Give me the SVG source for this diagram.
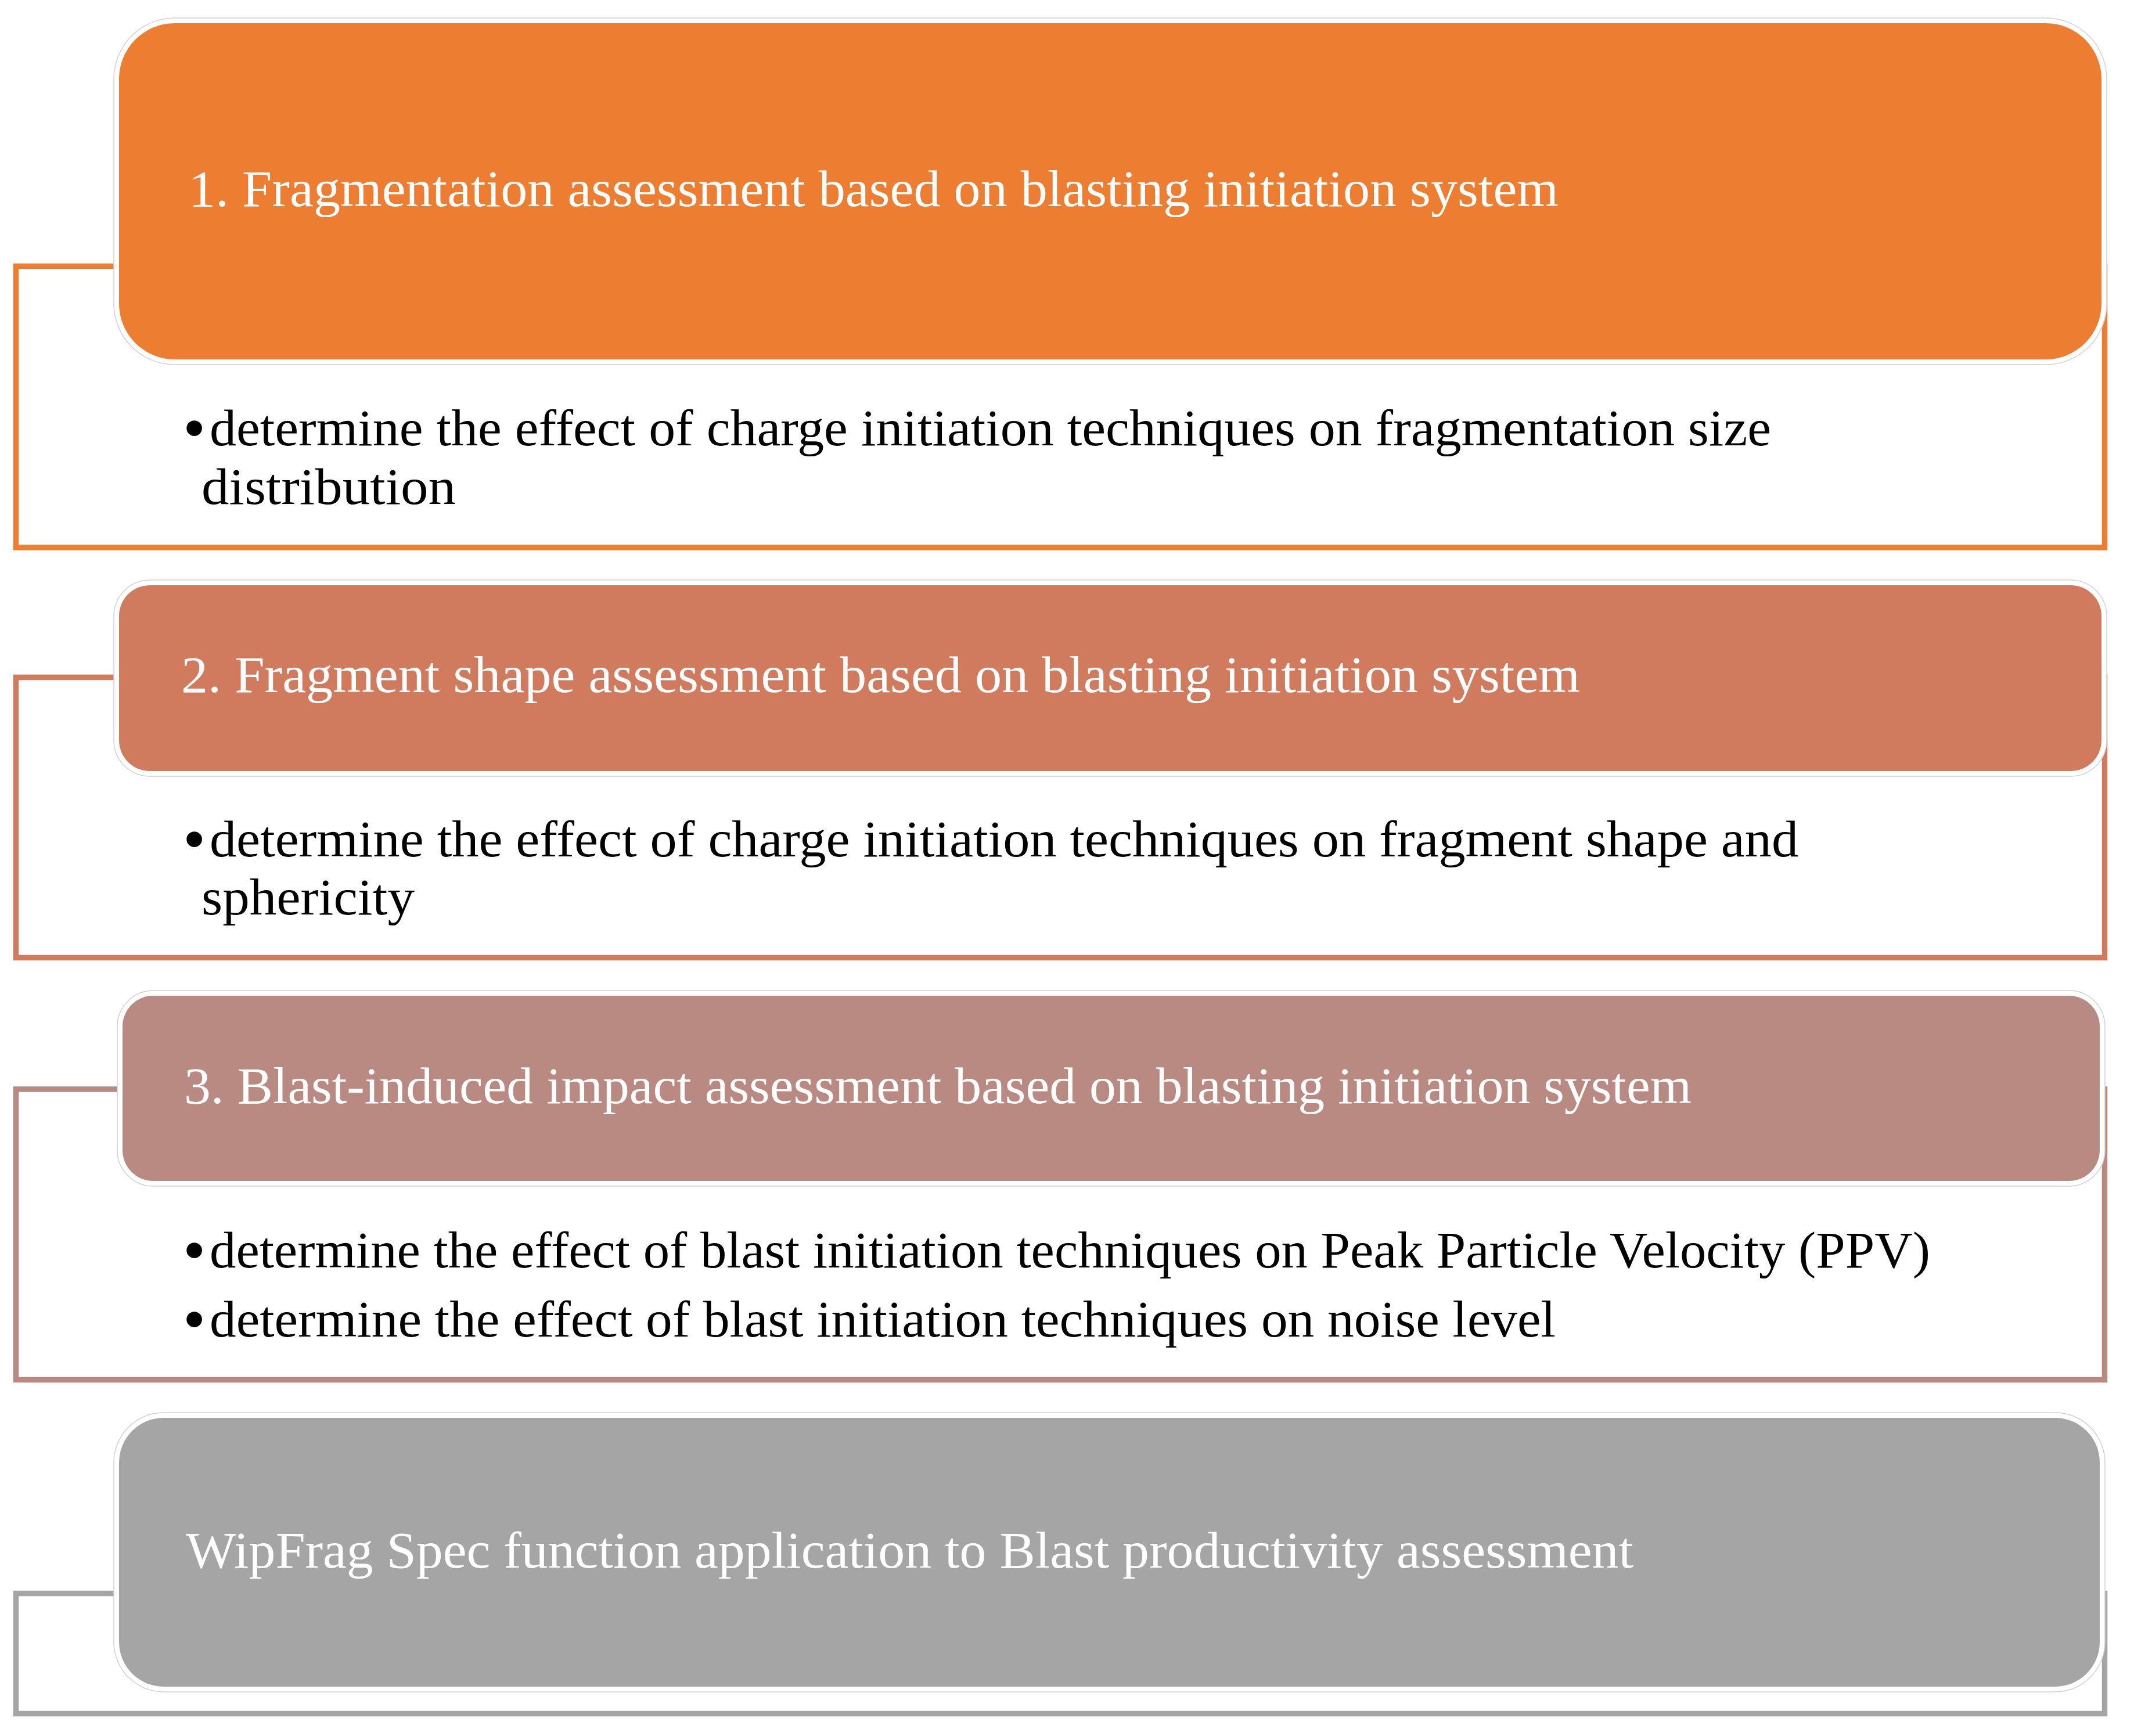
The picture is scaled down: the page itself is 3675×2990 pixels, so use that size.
<svg xmlns="http://www.w3.org/2000/svg" width="3675" height="2990" viewBox="0 0 3675 2990">
<style>
.bg{fill:#ffffff}
.br{fill:none;stroke-width:9.5;stroke-linejoin:miter}
.outer{fill:#ffffff;stroke:#d2d2d2;stroke-width:1.5}
.title{font-family:"Liberation Serif","Times New Roman",serif;font-size:88px;fill:#ffffff}
.body{font-family:"Liberation Serif","Times New Roman",serif;font-size:88px;fill:#000000}
.bul{font-family:"Liberation Serif","Times New Roman",serif;font-size:112px;fill:#000000}
</style>
<rect class="bg" x="0" y="0" width="3675" height="2990"/>
<g id="connectors">
<rect class="br" x="27.5" y="458.5" width="3597" height="484.5" stroke="#ED7D31"/>
<rect class="br" x="27.5" y="1166.5" width="3597" height="483" stroke="#D17B5E"/>
<rect class="br" x="27.5" y="1876" width="3597" height="500.5" stroke="#B98A82"/>
<rect class="br" x="27.5" y="2744.5" width="3597" height="207" stroke="#A5A5A5"/>
</g>
<g id="node1">
<rect class="outer" x="196" y="31" width="3432" height="597" rx="105" ry="105"/>
<rect x="205" y="40" width="3414" height="579" rx="96" ry="96" fill="#ED7D31"/>
<text class="title" x="325" y="355" textLength="2359" lengthAdjust="spacingAndGlyphs">1. Fragmentation assessment based on blasting initiation system</text>
<text class="bul" x="315" y="775">•</text>
<text class="body" x="361" y="767" textLength="2689" lengthAdjust="spacingAndGlyphs">determine the effect of charge initiation techniques on fragmentation size</text>
<text class="body" x="347" y="868" textLength="438" lengthAdjust="spacingAndGlyphs">distribution</text>
</g>
<g id="node2">
<rect class="outer" x="196" y="999" width="3432" height="338" rx="62" ry="62"/>
<rect x="205" y="1008" width="3414" height="320" rx="53" ry="53" fill="#D17B5E"/>
<text class="title" x="312" y="1192" textLength="2409" lengthAdjust="spacingAndGlyphs">2. Fragment shape assessment based on blasting initiation system</text>
<text class="bul" x="315" y="1483">•</text>
<text class="body" x="361" y="1475" textLength="2736" lengthAdjust="spacingAndGlyphs">determine the effect of charge initiation techniques on fragment shape and</text>
<text class="body" x="347" y="1575" textLength="367" lengthAdjust="spacingAndGlyphs">sphericity</text>
</g>
<g id="node3">
<rect class="outer" x="202" y="1706" width="3423" height="337" rx="62" ry="62"/>
<rect x="211" y="1715" width="3405" height="319" rx="53" ry="53" fill="#B98A82"/>
<text class="title" x="317" y="1900" textLength="2596" lengthAdjust="spacingAndGlyphs">3. Blast-induced impact assessment based on blasting initiation system</text>
<text class="bul" x="315" y="2191">•</text>
<text class="body" x="361" y="2183" textLength="2963" lengthAdjust="spacingAndGlyphs">determine the effect of blast initiation techniques on Peak Particle Velocity (PPV)</text>
<text class="bul" x="315" y="2310">•</text>
<text class="body" x="361" y="2302" textLength="2318" lengthAdjust="spacingAndGlyphs">determine the effect of blast initiation techniques on noise level</text>
</g>
<g id="node4">
<rect class="outer" x="196" y="2433" width="3429" height="481" rx="86" ry="86"/>
<rect x="205" y="2442" width="3411" height="463" rx="77" ry="77" fill="#A5A5A5"/>
<text class="title" x="320" y="2700" textLength="2493" lengthAdjust="spacingAndGlyphs">WipFrag Spec function application to Blast productivity assessment</text>
</g>
</svg>
